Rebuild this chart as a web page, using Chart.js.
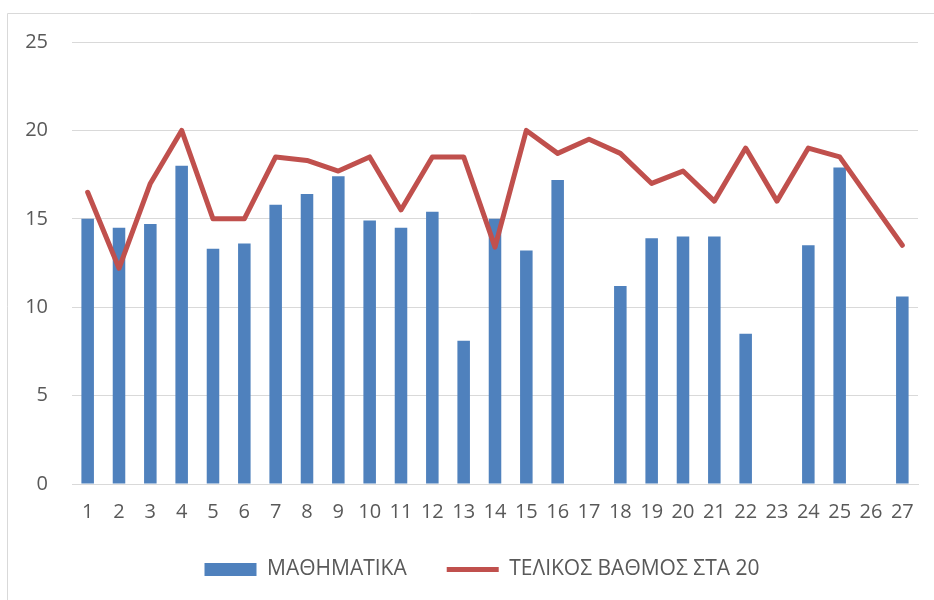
<!DOCTYPE html>
<html>
<head>
<meta charset="utf-8">
<script src="https://cdn.jsdelivr.net/npm/chart.js@4/dist/chart.umd.min.js"></script>
<style>
html,body{margin:0;padding:0;background:#fff;}
#wrap{width:934px;height:600px;position:relative;}
</style>
</head>
<body>
<div id="wrap"><canvas id="c" width="934" height="600"></canvas></div>
<script>
const categories = ["1","2","3","4","5","6","7","8","9","10","11","12","13","14","15","16","17","18","19","20","21","22","23","24","25","26","27"];
const mathValues = [15.0,14.5,14.7,18.0,13.3,13.6,15.8,16.4,17.4,14.9,14.5,15.4,8.1,15.0,13.2,17.2,null,11.2,13.9,14.0,14.0,8.5,null,13.5,17.9,null,10.6];
const finalValues = [16.5,12.2,17.0,20.0,15.0,15.0,18.5,18.3,17.7,18.5,15.5,18.5,18.5,13.4,20.0,18.7,19.5,18.7,17.0,17.7,16.0,19.0,16.0,19.0,18.5,16.0,13.5];
const seriesNames = ["ΜΑΘΗΜΑΤΙΚΑ","ΤΕΛΙΚΟΣ ΒΑΘΜΟΣ ΣΤΑ 20"];
const yTicks = [0,5,10,15,20,25];

const FONT = "'Open Sans','Noto Sans',sans-serif";

const frame = {
  id:'frame',
  afterLayout(chart){
    if (chart.legend) { chart.legend.left += 38; chart.legend.right += 0; }
  },
  beforeDraw(chart){
    const ctx = chart.ctx;
    ctx.save();
    ctx.strokeStyle = '#d9d9d9';
    ctx.lineWidth = 1;
    ctx.beginPath();
    ctx.moveTo(7.5, 600);
    ctx.lineTo(7.5, 13.5);
    ctx.lineTo(934, 13.5);
    ctx.stroke();
    ctx.restore();
  }
};

new Chart(document.getElementById('c'), {
  type:'bar',
  data:{
    labels: categories,
    datasets:[
      {
        type:'bar',
        label: seriesNames[0],
        data: mathValues,
        backgroundColor:'#4f81bd',
        borderWidth:0,
        barPercentage:0.4,
        categoryPercentage:1.0,
        pointStyle:'rect',
        order:1
      },
      {
        type:'line',
        label: seriesNames[1],
        data: finalValues,
        borderColor:'#c0504d',
        backgroundColor:'#c0504d',
        borderWidth:5,
        borderCapStyle:'round',
        borderJoinStyle:'round',
        pointRadius:0,
        pointHoverRadius:0,
        tension:0,
        pointStyle:'line',
        order:0
      }
    ]
  },
  options:{
    responsive:false,
    animation:false,
    events:[],
    layout:{padding:{left:8,right:16,top:42,bottom:10}},
    plugins:{
      tooltip:{enabled:false},
      legend:{
        position:'bottom',
        labels:{
          usePointStyle:true,
          pointStyleWidth:52,
          boxHeight:13,
          padding:40,
          color:'#595959',
          font:{family:FONT,size:21},
          sort:(a,b)=>a.datasetIndex-b.datasetIndex
        }
      }
    },
    scales:{
      x:{
        grid:{display:false,drawTicks:false},
        border:{display:true,color:'#d9d9d9',width:1},
        afterFit(scale){ scale.height = scale.height - 21; },
        ticks:{color:'#595959',font:{family:FONT,size:20},padding:16,maxRotation:0,autoSkip:false}
      },
      y:{
        min:0,max:25,
        afterBuildTicks(scale){ scale.ticks = yTicks.map(v=>({value:v})); },
        afterFit(scale){ scale.width = 64; },
        grid:{color:'#d9d9d9',lineWidth:1,drawTicks:false},
        border:{display:false},
        ticks:{color:'#595959',font:{family:FONT,size:20},padding:24}
      }
    }
  },
  plugins:[frame]
});
</script>
</body>
</html>
